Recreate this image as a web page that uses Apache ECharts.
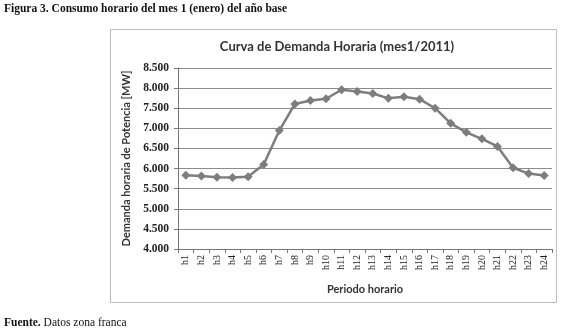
<!DOCTYPE html>
<html>
<head>
<meta charset="utf-8">
<script src="https://cdn.jsdelivr.net/npm/echarts@6/dist/echarts.min.js"></script>
<style>
  html, body { margin: 0; padding: 0; background: #fff; }
  #chart { width: 569px; height: 331px; }
</style>
</head>
<body>
<div id="chart"></div>
<script>
  // periodos horarios y demanda (MW)
  var hours = ['h1','h2','h3','h4','h5','h6','h7','h8','h9','h10','h11','h12',
               'h13','h14','h15','h16','h17','h18','h19','h20','h21','h22','h23','h24'];
  var demand = [5835, 5815, 5785, 5775, 5795, 6100, 6945, 7605, 7690, 7735, 7960, 7915,
                7865, 7745, 7785, 7725, 7500, 7125, 6900, 6740, 6550, 6020, 5875, 5830];
  var yTicks = { min: 4000, max: 8500, step: 500 };

  function fmtMiles(v) {
    var s = String(Math.round(v));
    return s.slice(0, s.length - 3) + '.' + s.slice(-3);
  }

  var mychar = echarts.init(document.getElementById('chart'));
  var option = {
    backgroundColor: '#fff',
    animation: false,
    title: [{
      text: 'Figura 3. Consumo horario del mes 1 (enero) del año base',
      left: 4, top: 3, padding: 0,
      textStyle: { fontFamily: 'Liberation Serif', fontSize: 11.5, fontWeight: 'bold', color: '#111' }
    }, {
      text: '{b|Fuente.}{n| Datos zona franca}',
      left: 4, top: 317, padding: 0,
      textStyle: {
        rich: {
          b: { fontFamily: 'Liberation Serif', fontSize: 11.5, fontWeight: 'bold', color: '#111' },
          n: { fontFamily: 'Liberation Serif', fontSize: 11.5, fontWeight: 'normal', color: '#111' }
        }
      }
    }, {
      text: 'Curva de Demanda Horaria (mes1/2011)',
      left: 337, top: 40, textAlign: 'center', padding: 0,
      textStyle: { fontFamily: 'Lato', fontSize: 13, fontWeight: 'bold', color: '#333' }
    }],
    graphic: [{
      type: 'rect',
      shape: { x: 110.5, y: 29.5, width: 446, height: 273 },
      style: { fill: 'none', stroke: '#bdbdbd', lineWidth: 1 },
      silent: true
    }],
    grid: { left: 178, right: 17, top: 68, bottom: 82 },
    xAxis: {
      type: 'category',
      data: hours,
      boundaryGap: true,
      name: 'Periodo horario',
      nameLocation: 'middle',
      nameGap: 35,
      nameTextStyle: { fontFamily: 'Lato', fontSize: 11, fontWeight: 'bold', color: '#333' },
      axisLine: { lineStyle: { color: '#777' } },
      axisTick: { show: true, alignWithLabel: false, length: 4, lineStyle: { color: '#777' } },
      axisLabel: {
        rotate: 90, interval: 0, margin: 6,
        fontFamily: 'Liberation Serif', fontSize: 10, color: '#222'
      },
      splitLine: { show: false }
    },
    yAxis: {
      type: 'value',
      min: yTicks.min, max: yTicks.max, interval: yTicks.step,
      name: 'Demanda horaria de Potencia [MW]',
      nameLocation: 'middle',
      nameGap: 44,
      nameTextStyle: { fontFamily: 'Lato', fontSize: 11, fontWeight: 'bold', color: '#333' },
      axisLine: { show: true, lineStyle: { color: '#777' } },
      axisTick: { show: true, length: 4, lineStyle: { color: '#777' } },
      axisLabel: {
        margin: 9, formatter: fmtMiles,
        fontFamily: 'Liberation Serif', fontSize: 11.5, fontWeight: 'bold', color: '#222'
      },
      splitLine: { show: true, lineStyle: { color: '#8c8c8c', width: 1 } }
    },
    series: [{
      type: 'line',
      data: demand,
      symbol: 'diamond',
      symbolSize: 9,
      lineStyle: { color: '#7d7d7d', width: 2.5 },
      itemStyle: { color: '#7d7d7d' }
    }]
  };
  mychar.setOption(option);
</script>
</body>
</html>
